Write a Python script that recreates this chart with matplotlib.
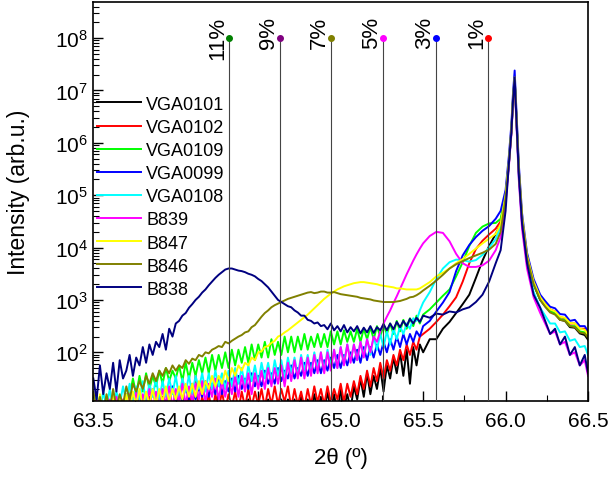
import numpy as np
import matplotlib
matplotlib.use('Agg')
import matplotlib.pyplot as plt
from matplotlib.ticker import LogLocator, MultipleLocator

plt.rcParams['font.family'] = ['Liberation Sans', 'DejaVu Sans']
plt.rcParams['mathtext.default'] = 'regular'

# 2theta sampling: dense scan over the noisy part, coarser near the layer
# peaks, fine over the substrate peak, then the right tail
two_theta = np.concatenate([
    np.round(np.arange(63.50, 65.49, 0.02), 2),
    np.round(np.arange(65.50, 65.95, 0.04), 2),
    [65.97, 66.00, 66.02, 66.035, 66.045, 66.055, 66.065, 66.08, 66.10, 66.13, 66.17, 66.21],
    [66.24, 66.27, 66.30, 66.33, 66.36, 66.39, 66.42, 66.45, 66.48, 66.50],
])

# intensities, given as log10(counts)
vga0101 = [0.7, 0.95, 0.65, 0.9, 0.7, 1.0, 0.65, 0.95, 0.7, 0.9,
           0.75, 1.0, 0.7, 0.95, 0.7, 1.0, 0.75, 0.95, 0.7, 1.0,
           0.75, 1.0, 0.7, 1.05, 0.75, 1.0, 0.8, 1.0, 0.75, 1.05,
           0.8, 1.0, 0.75, 1.05, 0.8, 1.0, 0.8, 1.05, 0.75, 1.0,
           0.8, 1.05, 0.8, 1.0, 0.85, 1.05, 0.8, 1.1, 0.85, 1.05,
           0.85, 1.05, 0.8, 1.1, 0.85, 1.05, 0.9, 1.1, 0.85, 1.1,
           0.9, 1.1, 0.85, 1.15, 0.9, 1.1, 0.9, 1.2, 0.85, 1.15,
           0.85, 1.25, 0.9, 1.2, 0.8, 1.3, 0.95, 1.2, 0.9, 1.35,
           1.1, 1.5, 1.15, 1.6, 1.2, 1.55, 1.3, 1.7, 1.25, 1.75,
           1.5, 1.9, 1.6, 2.0, 1.55, 2.05, 1.4, 2.1, 1.75, 2.15,
           2.0, 2.25, 2.25, 2.45, 2.58, 2.75, 2.92, 3.1, 3.42, 3.75, 4.03, 4.26,
           4.45, 4.95, 5.6, 6.2, 6.8, 7.2, 6.5, 5.45, 4.5, 3.8, 3.3, 3.0,
           2.88, 2.78, 2.74, 2.62, 2.6, 2.48, 2.47, 2.36, 2.33, 2.24]
vga0102 = [0.8, 1.0, 0.7, 1.05, 0.75, 1.0, 0.7, 1.1, 0.75, 1.05,
           0.8, 1.1, 0.75, 1.05, 0.8, 1.1, 0.75, 1.15, 0.8, 1.1,
           0.85, 1.15, 0.8, 1.1, 0.85, 1.2, 0.8, 1.15, 0.85, 1.2,
           0.9, 1.55, 0.85, 1.15, 0.9, 1.2, 0.85, 1.2, 0.9, 1.25,
           0.9, 1.2, 0.95, 1.25, 0.9, 1.25, 0.95, 1.3, 0.95, 1.25,
           1.0, 1.3, 0.95, 1.3, 1.0, 1.35, 1.0, 1.3, 1.05, 1.35,
           0.95, 1.3, 1.0, 1.25, 0.95, 1.3, 1.0, 1.35, 1.05, 1.3,
           1.0, 1.35, 1.05, 1.3, 1.1, 1.4, 1.05, 1.4, 1.15, 1.45,
           1.2, 1.55, 1.3, 1.65, 1.35, 1.7, 1.45, 1.8, 1.5, 1.85,
           1.65, 1.95, 1.75, 2.05, 1.85, 2.15, 1.95, 2.2, 2.05, 2.3,
           2.35, 2.45, 2.58, 2.72, 2.88, 3.05, 3.35, 3.7, 3.97, 4.13, 4.25, 4.36,
           4.5, 5.0, 5.65, 6.25, 6.85, 7.25, 6.55, 5.5, 4.55, 3.85, 3.35, 3.05,
           2.92, 2.82, 2.78, 2.67, 2.65, 2.55, 2.55, 2.45, 2.45, 2.38]
vga0109 = [0.9, 0.8, 1.0, 0.85, 0.95, 0.8, 1.0, 0.9, 1.05, 0.9,
           1.0, 1.15, 1.5, 1.2, 1.55, 1.25, 1.6, 1.3, 1.55, 1.35,
           1.65, 1.4, 1.7, 1.45, 1.65, 1.5, 1.75, 1.45, 1.8, 1.5,
           1.8, 1.55, 1.85, 1.6, 1.9, 1.6, 1.95, 1.65, 1.95, 1.7,
           2.0, 1.7, 2.05, 1.75, 2.05, 1.8, 2.1, 1.8, 2.15, 1.85,
           2.15, 1.9, 2.2, 1.9, 2.25, 1.95, 2.2, 1.95, 2.3, 2.0,
           2.3, 2.0, 2.3, 2.05, 2.35, 2.05, 2.3, 2.1, 2.35, 2.1,
           2.35, 2.1, 2.4, 2.15, 2.4, 2.15, 2.42, 2.2, 2.4, 2.2,
           2.45, 2.2, 2.45, 2.25, 2.48, 2.25, 2.5, 2.3, 2.52, 2.35,
           2.55, 2.35, 2.6, 2.4, 2.62, 2.45, 2.65, 2.5, 2.7, 2.55,
           2.72, 2.82, 2.95, 3.08, 3.2, 3.45, 3.72, 4.03, 4.28, 4.4, 4.46, 4.47,
           4.55, 5.0, 5.65, 6.25, 6.85, 7.25, 6.55, 5.5, 4.55, 3.8, 3.3, 3.0,
           2.9, 2.78, 2.75, 2.63, 2.62, 2.5, 2.5, 2.4, 2.38, 2.3]
vga0099 = [1.0, 0.8, 1.1, 0.85, 1.05, 0.8, 1.1, 0.85, 1.15, 0.9,
           1.2, 0.9, 1.15, 0.95, 1.25, 0.9, 1.2, 0.95, 1.3, 1.0,
           1.25, 1.0, 1.3, 1.0, 1.35, 1.05, 1.3, 1.05, 1.35, 1.1,
           1.4, 1.1, 1.35, 1.15, 1.45, 1.15, 1.4, 1.2, 1.5, 1.2,
           1.45, 1.25, 1.5, 1.25, 1.55, 1.3, 1.5, 1.3, 1.6, 1.35,
           1.55, 1.35, 1.65, 1.4, 1.6, 1.4, 1.7, 1.45, 1.65, 1.5,
           1.75, 1.5, 1.7, 1.55, 1.8, 1.55, 1.8, 1.6, 1.85, 1.6,
           1.85, 1.65, 1.9, 1.7, 1.95, 1.7, 1.95, 1.75, 2.0, 1.8,
           2.05, 1.8, 2.1, 1.85, 2.1, 1.9, 2.15, 1.95, 2.2, 2.0,
           2.25, 2.05, 2.3, 2.1, 2.35, 2.15, 2.35, 2.2, 2.4, 2.3,
           2.5, 2.6, 2.78, 2.95, 3.15, 3.55, 3.85, 4.05, 4.2, 4.32, 4.41, 4.55,
           4.7, 5.1, 5.75, 6.35, 6.95, 7.38, 6.65, 5.6, 4.65, 3.9, 3.4, 3.1,
           2.98, 2.87, 2.84, 2.73, 2.72, 2.6, 2.62, 2.5, 2.5, 2.4]
vga0108 = [0.9, 1.2, 0.85, 1.25, 0.95, 1.3, 0.9, 1.25, 1.0, 1.35,
           1.05, 1.4, 1.0, 1.35, 1.1, 1.45, 1.05, 1.4, 1.15, 1.5,
           1.1, 1.45, 1.15, 1.5, 1.2, 1.55, 1.15, 1.5, 1.25, 1.55,
           1.2, 1.55, 1.3, 1.6, 1.25, 1.6, 1.3, 1.65, 1.35, 1.6,
           1.3, 1.65, 1.35, 1.7, 1.4, 1.7, 1.35, 1.75, 1.45, 1.75,
           1.4, 1.8, 1.5, 1.8, 1.45, 1.85, 1.55, 1.85, 1.5, 1.9,
           1.6, 1.9, 1.55, 1.95, 1.65, 1.95, 1.6, 2.0, 1.7, 2.0,
           1.65, 2.05, 1.75, 2.05, 1.7, 2.1, 1.8, 2.15, 1.85, 2.15,
           1.85, 2.2, 1.95, 2.25, 1.95, 2.3, 2.05, 2.35, 2.1, 2.4,
           2.15, 2.45, 2.25, 2.5, 2.35, 2.55, 2.45, 2.65, 2.6, 2.8,
           2.95, 3.15, 3.4, 3.6, 3.72, 3.77, 3.76, 3.73, 3.76, 3.86, 4.0, 4.16,
           4.4, 4.95, 5.6, 6.2, 6.8, 7.2, 6.45, 5.35, 4.45, 3.7, 3.15, 2.85,
           2.7, 2.55, 2.55, 2.38, 2.4, 2.22, 2.25, 2.1, 2.12, 1.95]
b839 = [0.8, 1.1, 0.75, 1.05, 0.8, 1.1, 0.85, 1.15, 0.8, 1.1,
        0.85, 1.2, 0.9, 1.25, 0.85, 1.2, 0.95, 1.3, 0.9, 1.25,
        0.95, 1.3, 1.0, 1.35, 0.95, 1.3, 1.05, 1.4, 1.0, 1.35,
        1.05, 1.4, 1.1, 1.45, 1.05, 1.4, 1.15, 1.5, 1.1, 1.45,
        1.15, 1.5, 1.2, 1.55, 1.15, 1.55, 1.25, 1.6, 1.2, 1.6,
        1.3, 1.65, 1.3, 1.7, 1.35, 1.7, 1.4, 1.75, 1.35, 1.8,
        1.45, 1.85, 1.5, 1.9, 1.5, 1.9, 1.55, 1.95, 1.6, 2.0,
        1.6, 2.0, 1.65, 2.05, 1.7, 2.1, 1.75, 2.15, 1.8, 2.15,
        1.85, 2.2, 1.9, 2.25, 2.0, 2.3, 2.2, 2.4, 2.55, 2.68,
        2.8, 2.94, 3.07, 3.21, 3.35, 3.49, 3.62, 3.75, 3.87, 3.98,
        4.08, 4.22, 4.3, 4.28, 4.12, 3.88, 3.7, 3.63, 3.63, 3.66, 3.75, 3.95,
        4.2, 4.85, 5.55, 6.15, 6.75, 7.15, 6.4, 5.3, 4.35, 3.6, 3.05, 2.75,
        2.55, 2.35, 2.4, 2.15, 2.2, 1.95, 2.0, 1.75, 1.85, 1.55]
b847 = [1.1, 0.8, 1.2, 0.85, 1.15, 0.8, 1.2, 0.9, 1.15, 0.85,
        1.2, 0.9, 1.25, 1.0, 1.3, 0.95, 1.25, 1.0, 1.3, 1.0,
        1.3, 1.05, 1.35, 1.05, 1.3, 1.1, 1.35, 1.1, 1.4, 1.15,
        1.4, 1.15, 1.45, 1.2, 1.45, 1.3, 1.55, 1.35, 1.55, 1.4,
        1.65, 1.45, 1.7, 1.55, 1.75, 1.65, 1.8, 1.75, 1.9, 1.85,
        2.0, 2.02, 2.1, 2.12, 2.18, 2.22, 2.3, 2.33, 2.38, 2.42,
        2.47, 2.52, 2.57, 2.62, 2.67, 2.72, 2.78, 2.84, 2.9, 2.96,
        3.02, 3.07, 3.12, 3.16, 3.2, 3.23, 3.26, 3.28, 3.3, 3.32,
        3.33, 3.34, 3.34, 3.33, 3.32, 3.31, 3.3, 3.28, 3.27, 3.26,
        3.25, 3.24, 3.22, 3.22, 3.21, 3.2, 3.2, 3.2, 3.2, 3.22,
        3.26, 3.34, 3.45, 3.52, 3.6, 3.7, 3.78, 3.88, 3.98, 4.08, 4.17, 4.26,
        4.45, 5.0, 5.65, 6.25, 6.85, 7.25, 6.55, 5.5, 4.6, 3.85, 3.35, 3.05,
        2.92, 2.82, 2.78, 2.68, 2.66, 2.56, 2.55, 2.45, 2.43, 2.33]
b846 = [1.25, 0.9, 1.15, 0.85, 1.2, 0.9, 1.3, 0.95, 1.2, 1.0,
        1.35, 1.1, 1.4, 1.25, 1.45, 1.3, 1.55, 1.4, 1.6, 1.45,
        1.65, 1.55, 1.7, 1.6, 1.75, 1.65, 1.75, 1.7, 1.85, 1.78,
        1.88, 1.85, 1.95, 1.92, 2.0, 1.98, 2.05, 2.08, 2.12, 2.1,
        2.2, 2.17, 2.22, 2.26, 2.3, 2.33, 2.38, 2.4, 2.48, 2.52,
        2.6, 2.68, 2.75, 2.8, 2.86, 2.9, 2.93, 2.96, 2.99, 3.02,
        3.04, 3.06, 3.08, 3.1, 3.12, 3.14, 3.15, 3.13, 3.14, 3.16,
        3.16, 3.14, 3.14, 3.15, 3.13, 3.11, 3.1, 3.09, 3.08, 3.07,
        3.06, 3.04, 3.03, 3.02, 3.01, 2.99, 2.98, 2.97, 2.96, 2.96,
        2.96, 2.96, 2.97, 2.98, 3.0, 3.02, 3.05, 3.06, 3.09, 3.13,
        3.18, 3.27, 3.37, 3.48, 3.6, 3.68, 3.74, 3.8, 3.85, 3.9, 3.96, 4.07,
        4.3, 4.95, 5.6, 6.2, 6.8, 7.2, 6.5, 5.45, 4.55, 3.8, 3.3, 3.0,
        2.87, 2.76, 2.72, 2.62, 2.6, 2.5, 2.48, 2.38, 2.36, 2.28]
b838 = [1.5, 1.1, 1.75, 1.2, 1.6, 1.3, 1.8, 1.25, 1.85, 1.5,
        1.65, 1.95, 1.55, 1.9, 1.75, 2.1, 1.8, 2.15, 1.95, 2.2,
        2.1, 2.35, 2.05, 2.45, 2.3, 2.55, 2.6, 2.7, 2.75, 2.85,
        2.92, 3.0, 3.06, 3.14, 3.2, 3.28, 3.35, 3.42, 3.48, 3.53,
        3.58, 3.6, 3.6, 3.58, 3.56, 3.55, 3.53, 3.5, 3.48, 3.45,
        3.4, 3.36, 3.3, 3.24, 3.16, 3.08, 3.0, 2.96, 2.92, 2.88,
        2.86, 2.8, 2.76, 2.7, 2.7, 2.62, 2.6, 2.55, 2.57, 2.5,
        2.52, 2.44, 2.55, 2.42, 2.5, 2.4, 2.52, 2.38, 2.48, 2.4,
        2.5, 2.36, 2.47, 2.38, 2.5, 2.37, 2.48, 2.42, 2.54, 2.42,
        2.55, 2.44, 2.58, 2.48, 2.6, 2.5, 2.64, 2.55, 2.66, 2.58,
        2.7, 2.66, 2.74, 2.72, 2.78, 2.76, 2.82, 2.86, 2.96, 3.1, 3.35, 3.7,
        3.95, 4.7, 5.6, 6.2, 6.8, 7.25, 6.5, 5.4, 4.45, 3.7, 3.1, 2.85,
        2.6, 2.35, 2.45, 2.15, 2.3, 1.95, 2.1, 1.75, 1.95, 1.6]

samples = ['VGA0101', 'VGA0102', 'VGA0109', 'VGA0099', 'VGA0108',
           'B839', 'B847', 'B846', 'B838']
series = [vga0101, vga0102, vga0109, vga0099, vga0108, b839, b847, b846, b838]
colors = ['#000000', '#ff0000', '#00ff00', '#0000ff', '#00ffff',
          '#ff00ff', '#ffff00', '#808000', '#000080']

# expected peak positions for each In content
marker_pos = [64.32, 64.63, 64.94, 65.255, 65.575, 65.895]
marker_labels = ['11%', '9%', '7%', '5%', '3%', '1%']
marker_colors = ['#008000', '#800080', '#808000', '#ff00ff', '#0000ff', '#ff0000']

fig, ax = plt.subplots(figsize=(6.10, 4.81), dpi=100)
fig.subplots_adjust(left=0.153, right=0.964, top=0.994, bottom=0.164)

for name, vals, c in zip(samples, series, colors):
    ax.plot(two_theta, 10 ** np.array(vals), color=c, lw=1.4, label=name)

# composition guide lines with dots and labels
ax.vlines(marker_pos, 1, 1e8, color='#444444', lw=0.8, zorder=3)
for xp, lab, c in zip(marker_pos, marker_labels, marker_colors):
    ax.plot(xp, 1e8, 'o', color=c, ms=4, zorder=4)
    ax.text(xp - 0.004, 10 ** 8.42, lab, rotation=90, ha='right', va='top',
            fontsize=16)

ax.set_yscale('log')
ax.set_xlim(63.5, 66.5)
ax.set_ylim(11.7, 4.9e8)
ax.xaxis.set_major_locator(MultipleLocator(0.5))
ax.xaxis.set_minor_locator(MultipleLocator(0.25))
ax.xaxis.set_major_formatter(plt.FormatStrFormatter('%.1f'))
ax.yaxis.set_major_locator(LogLocator(base=10, numticks=12))
ax.yaxis.set_minor_locator(LogLocator(base=10, subs=np.arange(2, 10), numticks=12))
ax.tick_params(which='both', direction='in', top=False, right=False, labelsize=15)
ax.tick_params(axis='x', pad=7)
ax.tick_params(axis='y', pad=4)
ax.tick_params(which='major', length=7, width=1)
ax.tick_params(which='minor', length=4, width=0.8)
for sp in ax.spines.values():
    sp.set_linewidth(1.2)

ax.set_xlabel('2θ (º)', fontsize=16)
ax.set_ylabel('Intensity (arb.u.)', fontsize=16.5)
ax.xaxis.set_label_coords(0.5, -0.115)
ax.yaxis.set_label_coords(-0.128, 0.526)

ax.legend(loc='upper left', bbox_to_anchor=(0.008, 0.765), frameon=False,
          fontsize=13, handlelength=2.4, handletextpad=0.3, labelspacing=0.34,
          borderaxespad=0, borderpad=0)

plt.savefig('out.png', dpi=100)
